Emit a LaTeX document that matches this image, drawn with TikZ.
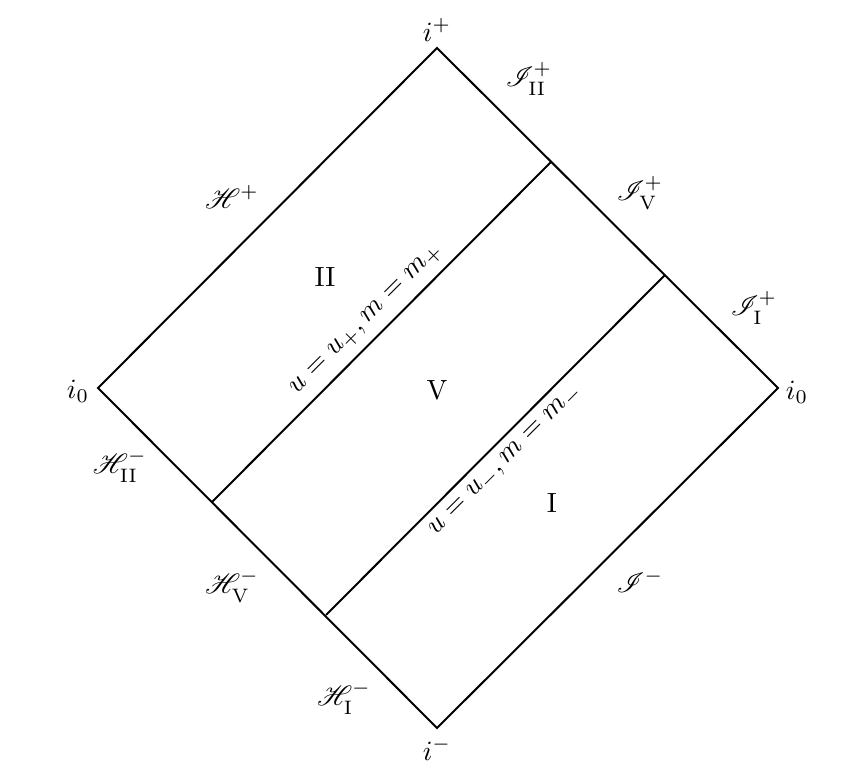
\documentclass[tikz,border=0pt]{standalone}
\usepackage{amsmath}
\usepackage{mathrsfs}
\begin{document}
\begin{tikzpicture}[x=0.3774pt,y=-0.3774pt,
  edge/.style={line width=0.75pt, line join=miter},
  lbl/.style={inner sep=0pt, scale=1.05}]
\useasboundingbox (0,0) rectangle (866,771);
\coordinate (T) at (437,48);
\coordinate (L) at (98,388);
\coordinate (B) at (437,728);
\coordinate (R) at (778,388);
\coordinate (A1) at (551,162);
\coordinate (A2) at (212,502);
\coordinate (B1) at (665,275);
\coordinate (B2) at (326,615);
\draw[edge] (T) -- (R) -- (B) -- (L) -- cycle;
\draw[edge] (A1) -- (A2);
\draw[edge] (B1) -- (B2);
\node[lbl] (ip) at (437,30) {$i^+$};
\node[lbl] (im) at (437,749) {$i^-$};
\node[lbl] (i0l) at (78,391) {$i_0$};
\node[lbl] (i0r) at (797,392) {$i_0$};
\node[lbl] (s2p) at (529,79) {$\mathscr{I}^+_{\mathrm{II}}$};
\node[lbl] (s5p) at (640,193) {$\mathscr{I}^+_{\mathrm{V}}$};
\node[lbl] (s1p) at (754,308) {$\mathscr{I}^+_{\mathrm{I}}$};
\node[lbl] (sm) at (640,581) {$\mathscr{I}^-$};
\node[lbl] (hp) at (232,197) {$\mathscr{H}^+$};
\node[lbl] (h2m) at (120,466) {$\mathscr{H}^-_{\mathrm{II}}$};
\node[lbl] (h5m) at (232,586) {$\mathscr{H}^-_{\mathrm{V}}$};
\node[lbl] (h1m) at (344,698) {$\mathscr{H}^-_{\mathrm{I}}$};
\node[lbl] (r2) at (325,277) {II};
\node[lbl] (r5) at (437,390) {V};
\node[lbl] (r1) at (552,503) {I};
\node[lbl, rotate=45] (lp) at (367,320) {$u=u_+, m=m_+$};
\node[lbl, rotate=45] (lm) at (506,461) {$u=u_-, m=m_-$};
\end{tikzpicture}
\end{document}
